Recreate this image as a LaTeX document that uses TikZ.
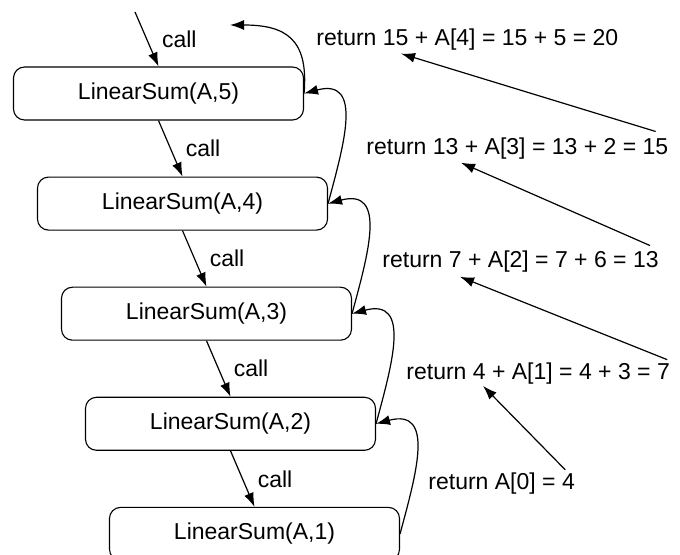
\documentclass[tikz,border=0pt]{standalone}
\usepackage{fontspec}
\setmainfont{Liberation Sans}
\usetikzlibrary{arrows.meta,positioning}

\begin{document}
\begin{tikzpicture}[
  x=1pt,y=1pt,
  node distance=28pt,
  font=\fontsize{11.5}{13.8}\selectfont,
  cbox/.style={draw,rounded corners=5.5pt,line width=0.55pt,minimum width=145pt,minimum height=26.5pt,inner sep=2pt},
  carc/.style={-{Latex[length=7pt,width=5pt]},line width=0.6pt},
  rarc/.style={-{Latex[length=7pt,width=5pt]},line width=0.6pt,out=75,in=15,looseness=1.4},
  larc/.style={-{Latex[length=7pt,width=5pt]},line width=0.6pt},
  rlab/.style={inner sep=0pt},
]
  \useasboundingbox (0,0) rectangle (340,-277.5);

  \node[cbox] (b5) at (79.25,-46.75) {LinearSum(A,5)};
  \node[cbox,below=of b5,xshift=12pt] (b4) {LinearSum(A,4)};
  \node[cbox,below=of b4,xshift=12pt] (b3) {LinearSum(A,3)};
  \node[cbox,below=of b3,xshift=12pt] (b2) {LinearSum(A,2)};
  \node[cbox,below=of b2,xshift=12pt] (b1) {LinearSum(A,1)};
  \coordinate (start) at (67.5,-6);
  \coordinate (done) at (115,-12.5);

  % calls going down
  \draw[carc] (start) to node[right=4pt]{call} (b5.north);
  \draw[carc] (b5.south) to node[right=4pt]{call} (b4.north);
  \draw[carc] (b4.south) to node[right=4pt]{call} (b3.north);
  \draw[carc] (b3.south) to node[right=4pt]{call} (b2.north);
  \draw[carc] (b2.south) to node[right=4pt]{call} (b1.north);

  % returns going up
  \draw[rarc] (b1.east) to (b2.east);
  \draw[rarc] (b2.east) to (b3.east);
  \draw[rarc] (b3.east) to (b4.east);
  \draw[rarc] (b4.east) to (b5.east);
  \draw[rarc,out=85,in=0] (b5.east) to (done);

  % return values
  \node[rlab,right=14pt of b1.east,yshift=25pt] (r0) {return A[0] = 4};
  \node[rlab,right=15pt of b2.east,yshift=25pt] (r1) {return 4 + A[1] = 4 + 3 = 7};
  \node[rlab,right=15pt of b3.east,yshift=26pt] (r2) {return 7 + A[2] = 7 + 6 = 13};
  \node[rlab,right=19pt of b4.east,yshift=27.5pt] (r3) {return 13 + A[3] = 13 + 2 = 15};
  \node[rlab,right=6pt of b5.east,yshift=27pt] (r4) {return 15 + A[4] = 15 + 5 = 20};

  % value handed to the caller
  \draw[larc] ([xshift=-5pt,yshift=1.5pt]r0.north east) -- ([xshift=38.5pt,yshift=-0.5pt]r1.south west);
  \draw[larc] ([xshift=-1.5pt,yshift=1.5pt]r1.north east) -- ([xshift=39pt,yshift=-2pt]r2.south west);
  \draw[larc] ([xshift=-4.5pt,yshift=2.5pt]r2.north east) -- ([xshift=47.5pt,yshift=-1.5pt]r3.south west);
  \draw[larc] ([xshift=-6.5pt,yshift=3pt]r3.north east) -- ([xshift=42.5pt,yshift=-1.5pt]r4.south west);
\end{tikzpicture}
\end{document}
